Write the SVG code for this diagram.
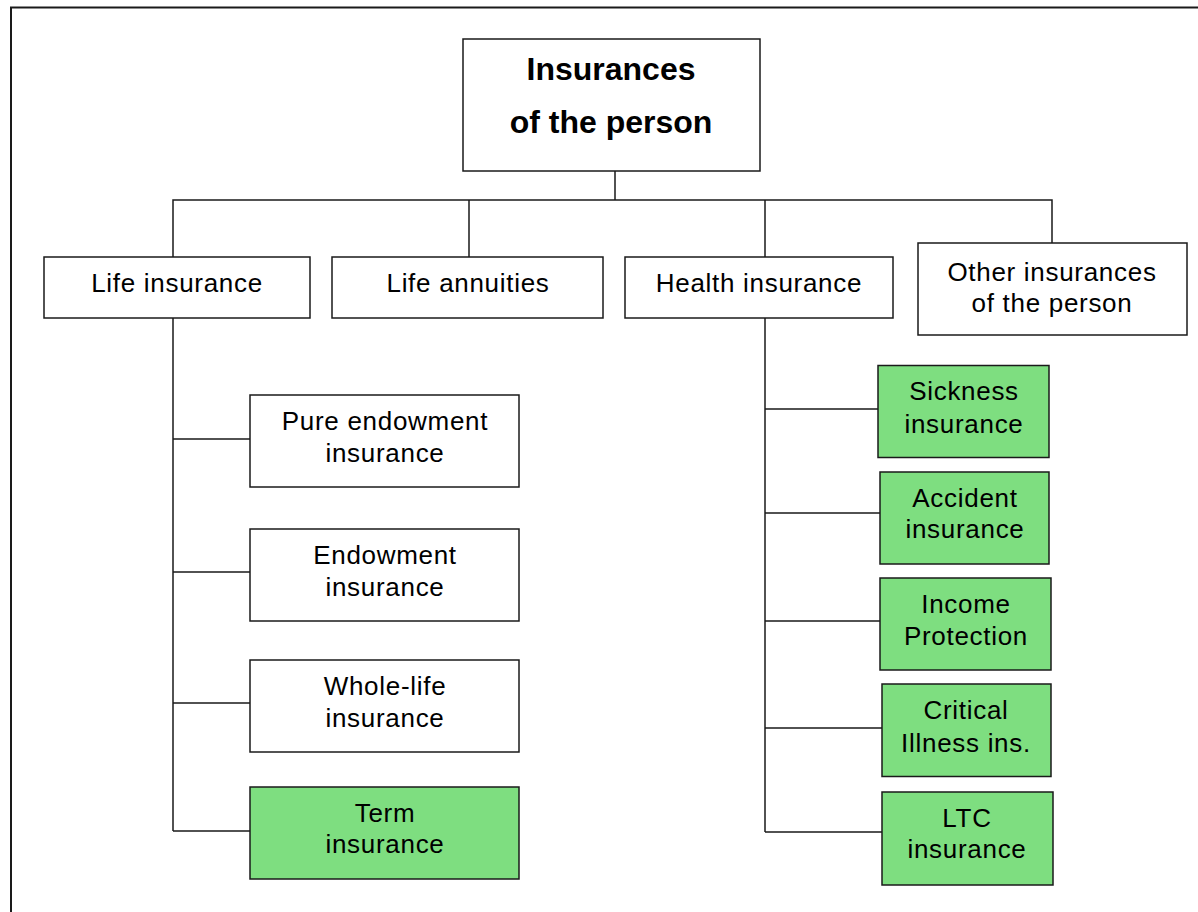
<svg xmlns="http://www.w3.org/2000/svg" width="1198" height="912" viewBox="0 0 1198 912">
  <style>
    .box { fill: #ffffff; stroke: #1a1a1a; stroke-width: 1.5; }
    .green { fill: #7ede80; }
    .lbl { font-family: "Liberation Sans", Arial, sans-serif; font-size: 26px; letter-spacing: 0.7px; fill: #000; text-anchor: middle; }
    .title { font-family: "Liberation Sans", Arial, sans-serif; font-size: 32px; font-weight: bold; fill: #000; text-anchor: middle; }
    .wire { fill: none; stroke: #1a1a1a; stroke-width: 1.5; }
  </style>

  <rect width="1198" height="912" fill="#ffffff"/>
  <!-- page frame -->
  <path d="M11,912 V7.5 H1198" fill="none" stroke="#1a1a1a" stroke-width="2"/>

  <g id="connectors">
    <path class="wire" d="M615,171 V200 M173,257 V200 H1052 V243 M469,200 V257 M765,200 V257"/>
    <path class="wire" d="M173,318 V831 M173,439 H250 M173,572 H250 M173,703 H250 M173,831 H250"/>
    <path class="wire" d="M765,318 V832 M765,409 H878 M765,513 H880 M765,621 H880 M765,728 H882 M765,832 H882"/>
  </g>

  <g id="root">
    <rect class="box" x="463" y="39" width="297" height="132"/>
    <text class="title" x="611" y="80">Insurances</text>
    <text class="title" x="611" y="133">of the person</text>
  </g>

  <g id="life-insurance">
    <rect class="box" x="44" y="257" width="266" height="61"/>
    <text class="lbl" x="177" y="292">Life insurance</text>
  </g>
  <g id="life-annuities">
    <rect class="box" x="332" y="257" width="271" height="61"/>
    <text class="lbl" x="468" y="292">Life annuities</text>
  </g>
  <g id="health-insurance">
    <rect class="box" x="625" y="257" width="268" height="61"/>
    <text class="lbl" x="759" y="292">Health insurance</text>
  </g>
  <g id="other-insurances">
    <rect class="box" x="918" y="243" width="269" height="92"/>
    <text class="lbl" x="1052" y="281">Other insurances</text>
    <text class="lbl" x="1052" y="312">of the person</text>
  </g>

  <g id="pure-endowment">
    <rect class="box" x="250" y="395" width="269" height="92"/>
    <text class="lbl" x="385" y="430">Pure endowment</text>
    <text class="lbl" x="385" y="462">insurance</text>
  </g>
  <g id="endowment">
    <rect class="box" x="250" y="529" width="269" height="92"/>
    <text class="lbl" x="385" y="564">Endowment</text>
    <text class="lbl" x="385" y="596">insurance</text>
  </g>
  <g id="whole-life">
    <rect class="box" x="250" y="660" width="269" height="92"/>
    <text class="lbl" x="385" y="695">Whole-life</text>
    <text class="lbl" x="385" y="727">insurance</text>
  </g>
  <g id="term">
    <rect class="box green" x="250" y="787" width="269" height="92"/>
    <text class="lbl" x="385" y="822">Term</text>
    <text class="lbl" x="385" y="853">insurance</text>
  </g>

  <g id="sickness">
    <rect class="box green" x="878" y="365.5" width="171" height="92"/>
    <text class="lbl" x="964" y="400">Sickness</text>
    <text class="lbl" x="964" y="433">insurance</text>
  </g>
  <g id="accident">
    <rect class="box green" x="880" y="472" width="169" height="92"/>
    <text class="lbl" x="965" y="507">Accident</text>
    <text class="lbl" x="965" y="538">insurance</text>
  </g>
  <g id="income-protection">
    <rect class="box green" x="880" y="578" width="171" height="92"/>
    <text class="lbl" x="966" y="613">Income</text>
    <text class="lbl" x="966" y="645">Protection</text>
  </g>
  <g id="critical-illness">
    <rect class="box green" x="882" y="684" width="169" height="92.5"/>
    <text class="lbl" x="966" y="719">Critical</text>
    <text class="lbl" x="966" y="752">Illness ins.</text>
  </g>
  <g id="ltc">
    <rect class="box green" x="882" y="792" width="171" height="93"/>
    <text class="lbl" x="967" y="827">LTC</text>
    <text class="lbl" x="967" y="858">insurance</text>
  </g>
</svg>
